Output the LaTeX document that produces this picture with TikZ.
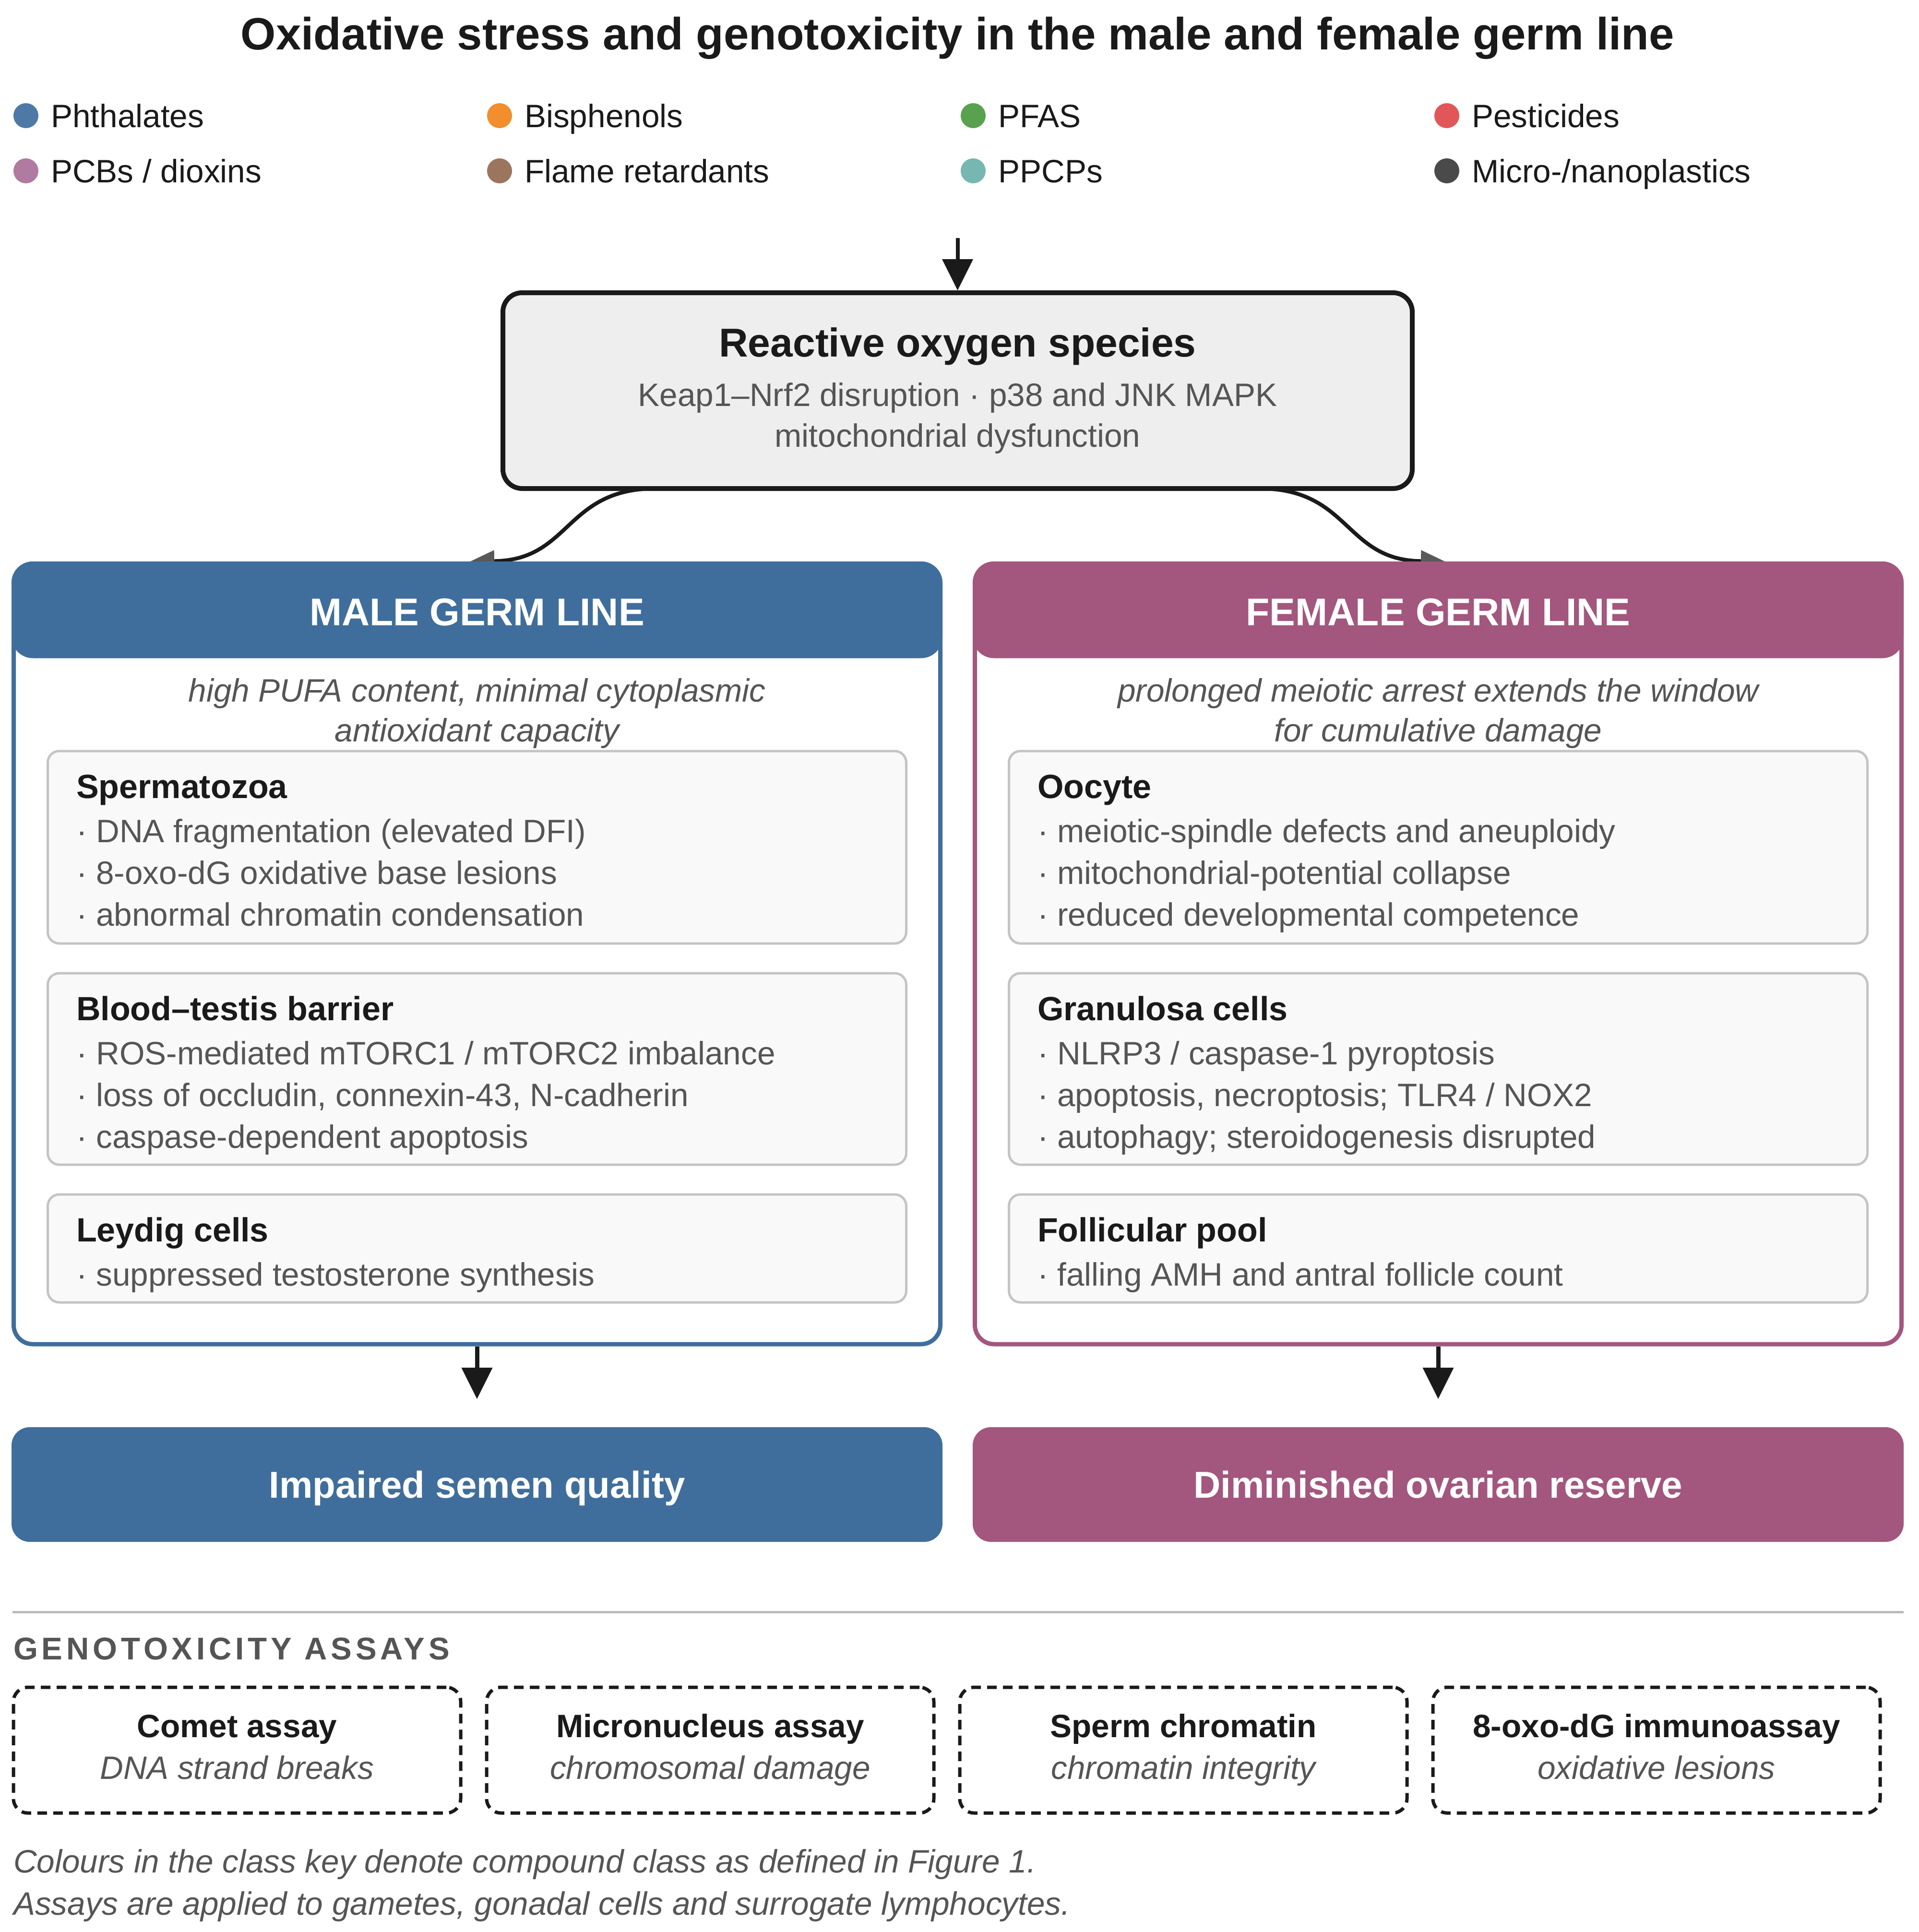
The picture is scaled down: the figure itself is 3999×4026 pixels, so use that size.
\documentclass[tikz,border=0pt]{standalone}
\usepackage{fontspec}
\setmainfont{Liberation Sans}
\usetikzlibrary{arrows.meta,fit}
\definecolor{maleC}{HTML}{3F6E9C}
\definecolor{femC}{HTML}{A3567E}
\definecolor{ink}{HTML}{1A1A1A}
\definecolor{txtgray}{HTML}{555555}
\definecolor{rosfill}{HTML}{EEEEEE}
\definecolor{subfill}{HTML}{F9F9F9}
\definecolor{subline}{HTML}{C4C4C4}
\definecolor{sepline}{HTML}{BBBBBB}
\definecolor{cPh}{HTML}{4E79A7}
\definecolor{cBi}{HTML}{F28E2B}
\definecolor{cPF}{HTML}{59A14F}
\definecolor{cPe}{HTML}{E15759}
\definecolor{cPC}{HTML}{B07AA1}
\definecolor{cFl}{HTML}{9C755F}
\definecolor{cPP}{HTML}{76B7B2}
\definecolor{cMi}{HTML}{4A4A4A}
\newcommand\fsz[1]{\fontsize{#1pt}{#1pt}\selectfont}
\begin{document}
\begin{tikzpicture}[x=1pt,y=-1pt,
  dot/.style={circle, inner sep=0pt, minimum size=52pt, draw=none},
  legtxt/.style={inner sep=0pt, anchor=base west, text=ink, font=\fsz{67.5}},
  rosbox/.style={draw=ink, line width=10pt, fill=rosfill, rounded corners=40pt, inner sep=0pt},
  panel/.style={line width=9pt, fill=white, rounded corners=40pt, inner sep=0pt},
  header/.style={line width=9pt, rounded corners=40pt, inner sep=0pt},
  subbox/.style={draw=subline, line width=5pt, fill=subfill, rounded corners=24pt, inner sep=0pt},
  outbox/.style={draw=none, rounded corners=38pt, inner sep=0pt},
  assaybox/.style={draw=ink, line width=7pt, dash pattern=on 20pt off 13pt, rounded corners=30pt, inner sep=0pt},
  ctitle/.style={inner sep=0pt, anchor=base, text=ink},
  csub/.style={inner sep=0pt, anchor=base, text=txtgray, font=\fsz{67.5}},
  csubit/.style={inner sep=0pt, anchor=base, text=txtgray, font=\fsz{67.5}\itshape},
  htxt/.style={inner sep=0pt, anchor=base, text=white, font=\fsz{80.5}\bfseries},
  boxtitle/.style={inner sep=0pt, anchor=base west, text=ink, font=\fsz{70}\bfseries},
  bullet/.style={inner sep=0pt, anchor=base west, text=txtgray, font=\fsz{67.5}},
  outtxt/.style={inner sep=0pt, anchor=base, text=white, font=\fsz{78}\bfseries},
  atitle/.style={inner sep=0pt, anchor=base, text=ink, font=\fsz{67.5}\bfseries},
  asub/.style={inner sep=0pt, anchor=base, text=txtgray, font=\fsz{67.5}\itshape},
  foot/.style={inner sep=0pt, anchor=base west, text=txtgray, font=\fsz{67.5}\itshape},
  arrline/.style={draw=ink, line width=9pt, -{Triangle[length=65pt,width=65pt,line width=0pt]}},
  curvearr/.style={draw=ink, line width=8pt, -{Triangle[length=50pt,width=46pt,line width=0pt,color=black!65]}},
  sepstyle/.style={draw=sepline, line width=5pt}
]
\path[use as bounding box, fill=white] (0,0) rectangle (3999,4026);

% title
\node[ctitle, font=\fsz{94.3}\bfseries] (title) at (1995.5,103.5) {Oxidative stress and genotoxicity in the male and female germ line};

% legend
\node[dot, fill=cPh] (d1) at (54,241) {};
\node[legtxt] (l1) at (106,265) {Phthalates};
\node[dot, fill=cBi] (d2) at (1041,241) {};
\node[legtxt] (l2) at (1093,265) {Bisphenols};
\node[dot, fill=cPF] (d3) at (2028,241) {};
\node[legtxt] (l3) at (2080,265) {PFAS};
\node[dot, fill=cPe] (d4) at (3015,241) {};
\node[legtxt] (l4) at (3067,265) {Pesticides};
\node[dot, fill=cPC] (d5) at (54,356) {};
\node[legtxt] (l5) at (106,380) {PCBs / dioxins};
\node[dot, fill=cFl] (d6) at (1041,356) {};
\node[legtxt] (l6) at (1093,380) {Flame retardants};
\node[dot, fill=cPP] (d7) at (2028,356) {};
\node[legtxt] (l7) at (2080,380) {PPCPs};
\node[dot, fill=cMi] (d8) at (3015,356) {};
\node[legtxt] (l8) at (3067,380) {Micro-/nanoplastics};

% curved connectors (drawn beneath the panels)
\coordinate (rosL) at (1367,1018);
\coordinate (maleIn) at (980,1170);
\coordinate (rosR) at (2624,1018);
\coordinate (femIn) at (3011,1170);
\draw[curvearr] (rosL) .. controls (1177,1018) and (1190,1167) .. (maleIn);
\draw[curvearr] (rosR) .. controls (2814,1018) and (2801,1167) .. (femIn);

% ROS box
\node[rosbox, fit={(1048,610) (2943,1018)}] (ros) {};
\node[ctitle, font=\fsz{84}\bfseries] (rosT) at (1995.5,743) {Reactive oxygen species};
\node[csub] (rosS1) at (1995.5,846) {Keap1–Nrf2 disruption · p38 and JNK MAPK};
\node[csub] (rosS2) at (1995.5,931) {mitochondrial dysfunction};

\coordinate (topStart) at (1995.5,496);
\draw[arrline, line width=8pt] (topStart) -- (ros.north);

% male panel
\node[panel, draw=maleC, fit={(28.5,1174.5) (1959.5,2801)}] (male) {};
\node[header, draw=maleC, fill=maleC, fit={(28.5,1174.5) (1959.5,1367)}] (maleH) {};
\node[htxt] (maleHT) at (994,1303) {MALE GERM LINE};
\node[csubit] (maleSub1) at (994,1462.5) {high PUFA content, minimal cytoplasmic};
\node[csubit] (maleSub2) at (994,1545) {antioxidant capacity};

\node[subbox, fit={(99.5,1565) (1888.5,1966)}] (spz) {};
\node[boxtitle] (spzT) at (159,1663) {Spermatozoa};
\node[bullet] (spzB1) at (159,1755.5) {· DNA fragmentation (elevated DFI)};
\node[bullet] (spzB2) at (159,1842.5) {· 8-oxo-dG oxidative base lesions};
\node[bullet] (spzB3) at (159,1929.5) {· abnormal chromatin condensation};

\node[subbox, fit={(99.5,2028) (1888.5,2427)}] (btb) {};
\node[boxtitle] (btbT) at (159,2126) {Blood–testis barrier};
\node[bullet] (btbB1) at (159,2218.5) {· ROS-mediated mTORC1 / mTORC2 imbalance};
\node[bullet] (btbB2) at (159,2305.5) {· loss of occludin, connexin-43, N-cadherin};
\node[bullet] (btbB3) at (159,2392.5) {· caspase-dependent apoptosis};

\node[subbox, fit={(99.5,2489) (1888.5,2714)}] (ley) {};
\node[boxtitle] (leyT) at (159,2587) {Leydig cells};
\node[bullet] (leyB1) at (159,2679.5) {· suppressed testosterone synthesis};

% female panel
\node[panel, draw=femC, fit={(2031.5,1174.5) (3962.5,2801)}] (fem) {};
\node[header, draw=femC, fill=femC, fit={(2031.5,1174.5) (3962.5,1367)}] (femH) {};
\node[htxt] (femHT) at (2997,1303) {FEMALE GERM LINE};
\node[csubit] (femSub1) at (2997,1462.5) {prolonged meiotic arrest extends the window};
\node[csubit] (femSub2) at (2997,1545) {for cumulative damage};

\node[subbox, fit={(2102.5,1565) (3891.5,1966)}] (ooc) {};
\node[boxtitle] (oocT) at (2162,1663) {Oocyte};
\node[bullet] (oocB1) at (2162,1755.5) {· meiotic-spindle defects and aneuploidy};
\node[bullet] (oocB2) at (2162,1842.5) {· mitochondrial-potential collapse};
\node[bullet] (oocB3) at (2162,1929.5) {· reduced developmental competence};

\node[subbox, fit={(2102.5,2028) (3891.5,2427)}] (gra) {};
\node[boxtitle] (graT) at (2162,2126) {Granulosa cells};
\node[bullet] (graB1) at (2162,2218.5) {· NLRP3 / caspase-1 pyroptosis};
\node[bullet] (graB2) at (2162,2305.5) {· apoptosis, necroptosis; TLR4 / NOX2};
\node[bullet] (graB3) at (2162,2392.5) {· autophagy; steroidogenesis disrupted};

\node[subbox, fit={(2102.5,2489) (3891.5,2714)}] (fol) {};
\node[boxtitle] (folT) at (2162,2587) {Follicular pool};
\node[bullet] (folB1) at (2162,2679.5) {· falling AMH and antral follicle count};

% outcome arrows and boxes
\coordinate (maleOut) at (994,2915);
\coordinate (femOut) at (2997,2915);
\draw[arrline] (male.south) -- (maleOut);
\draw[arrline] (fem.south) -- (femOut);

\node[outbox, fill=maleC, fit={(24,2974) (1964,3213)}] (semen) {};
\node[outtxt] (semenT) at (994,3121) {Impaired semen quality};
\node[outbox, fill=femC, fit={(2027,2974) (3967,3213)}] (ovar) {};
\node[outtxt] (ovarT) at (2997,3121) {Diminished ovarian reserve};

% separator and assays
\coordinate (sepL) at (26,3359.5);
\coordinate (sepR) at (3967,3359.5);
\draw[sepstyle] (sepL) -- (sepR);
\node[inner sep=0pt, anchor=base west, text=txtgray, font=\fsz{65.5}\bfseries\addfontfeatures{LetterSpace=12}] (genT) at (28,3458) {GENOTOXICITY ASSAYS};

\node[assaybox, fit={(28,3516) (960,3778)}] (a1) {};
\node[atitle] (a1T) at (494,3620) {Comet assay};
\node[asub] (a1S) at (494,3707) {DNA strand breaks};
\node[assaybox, fit={(1014,3516) (1946,3778)}] (a2) {};
\node[atitle] (a2T) at (1480,3620) {Micronucleus assay};
\node[asub] (a2S) at (1480,3707) {chromosomal damage};
\node[assaybox, fit={(2000,3516) (2932,3778)}] (a3) {};
\node[atitle] (a3T) at (2466,3620) {Sperm chromatin};
\node[asub] (a3S) at (2466,3707) {chromatin integrity};
\node[assaybox, fit={(2986,3516) (3918,3778)}] (a4) {};
\node[atitle] (a4T) at (3452,3620) {8-oxo-dG immunoassay};
\node[asub] (a4S) at (3452,3707) {oxidative lesions};

\node[foot] (foot1) at (28,3902) {Colours in the class key denote compound class as defined in Figure 1.};
\node[foot] (foot2) at (28,3990) {Assays are applied to gametes, gonadal cells and surrogate lymphocytes.};
\end{tikzpicture}
\end{document}
